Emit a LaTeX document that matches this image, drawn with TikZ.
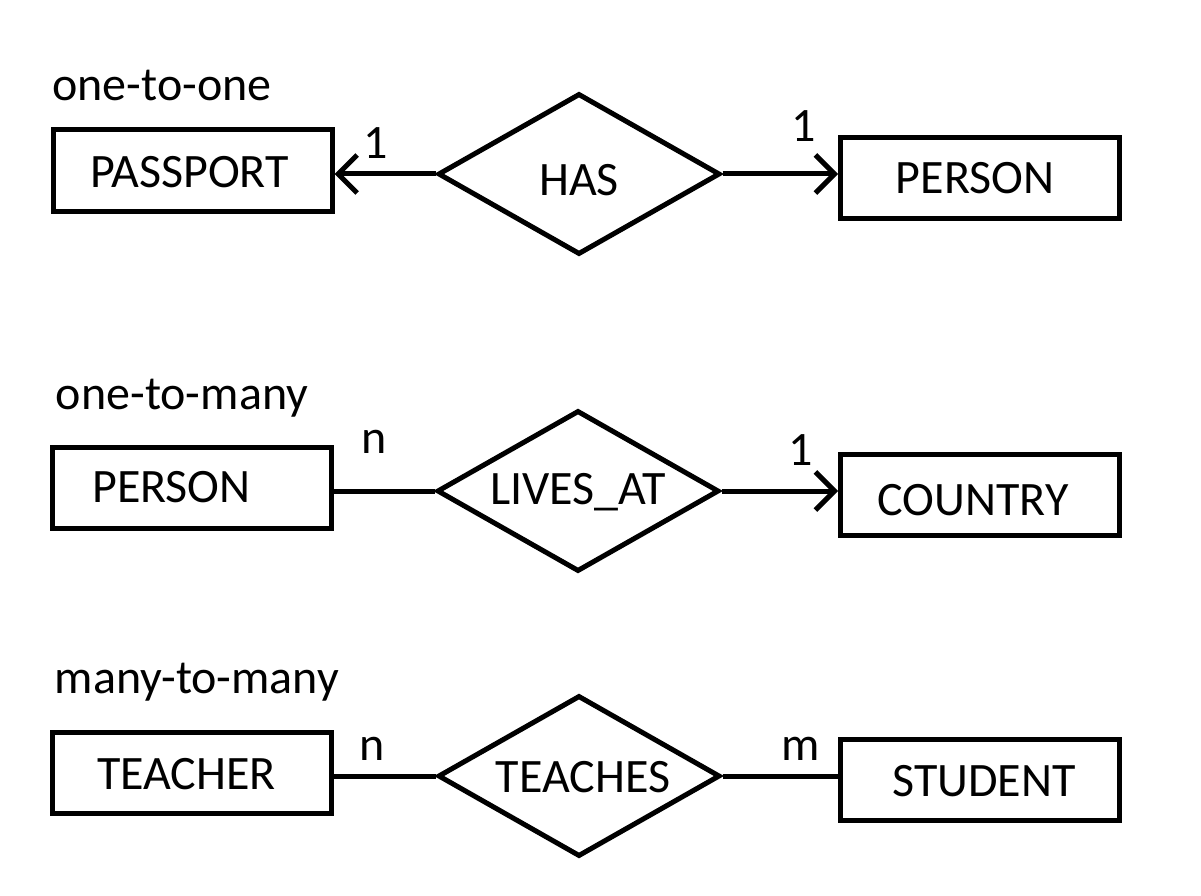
\documentclass[tikz,border=0pt]{standalone}
\usepackage{fontspec}
\setmainfont{Carlito}
\usetikzlibrary{shapes.geometric,arrows.meta}
\begin{document}
\begin{tikzpicture}[x=1pt,y=-1pt,
  every node/.style={font=\fontsize{48}{54}\selectfont},
  entity/.style={draw,line width=5pt,minimum width=279pt,minimum height=81pt,inner sep=0pt},
  rel/.style={draw,diamond,line width=5pt,minimum width=282pt,minimum height=161pt,inner sep=0pt},
  conn/.style={line width=5pt},
  arr/.style={conn,-{Straight Barb[length=19pt,width=38pt,line width=5pt]}},
  txt/.style={inner sep=0pt,anchor=center}]
\useasboundingbox (0,0) rectangle (1201,896);
% row 1
\node[txt] (t1) at (162,86) {one-to-one};
\node[entity,label={[txt,xshift=-3pt,yshift=-2pt]center:PASSPORT}] (passport) at (192.5,170.5) {};
\node[rel,label={[txt,yshift=-6pt]center:HAS}] (has) at (579,174) {};
\node[entity,label={[txt,xshift=-5pt]center:PERSON}] (person1) at (980,178) {};
\draw[arr] (has.west) -- (passport.east |- has.west);
\draw[arr] (has.east) -- (person1.west |- has.east);
\node[txt] (c1) at (376,143) {1};
\node[txt] (c2) at (804,126) {1};
% row 2
\node[txt] (t2) at (182,398) {one-to-many};
\node[entity,label={[txt,xshift=-20pt]center:PERSON}] (person2) at (191.5,487.5) {};
\node[rel,label={[txt,yshift=-1pt]center:LIVES\_AT}] (lives) at (578,491) {};
\node[entity,label={[txt,xshift=-7pt,yshift=-6pt]center:COUNTRY}] (country) at (980,494.5) {};
\draw[conn] (lives.west) -- (person2.east |- lives.west);
\draw[arr] (lives.east) -- (country.west |- lives.east);
\node[txt] (c3) at (374,442) {n};
\node[txt] (c4) at (801,450) {1};
% row 3
\node[txt] (t3) at (197,682) {many-to-many};
\node[entity,label={[txt,xshift=-5pt,yshift=-2pt]center:TEACHER}] (teacher) at (191.5,772.5) {};
\node[rel,label={[txt,xshift=4pt,yshift=-1pt]center:TEACHES}] (teaches) at (579,776) {};
\node[entity,label={[txt,xshift=4pt,yshift=-1pt]center:STUDENT}] (student) at (980,780) {};
\draw[conn] (teaches.west) -- (teacher.east |- teaches.west);
\draw[conn] (teaches.east) -- (student.west |- teaches.east);
\node[txt] (c5) at (372,749) {n};
\node[txt] (c6) at (801,749) {m};
\end{tikzpicture}
\end{document}
